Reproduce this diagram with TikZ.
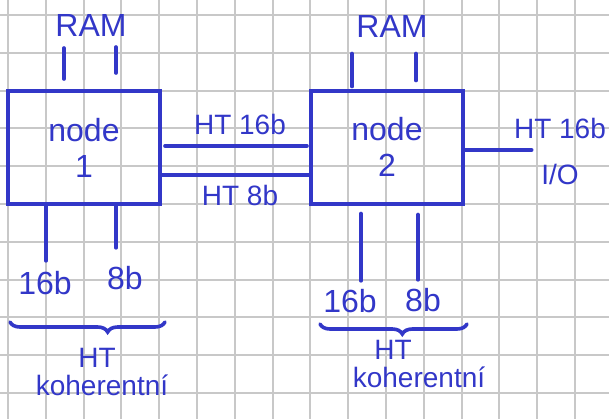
\documentclass[tikz,border=0pt]{standalone}
\usepackage{fontspec}
\setmainfont{Liberation Sans}
\usetikzlibrary{positioning,calc,decorations.pathreplacing}
\definecolor{ink}{HTML}{3237C8}
\definecolor{paper}{HTML}{C8C8C8}
\tikzset{
  nodebox/.style={draw=ink,line width=2pt,minimum width=76pt,minimum height=56.5pt,inner sep=0pt,align=center,text=ink,font=\fontsize{16}{18}\selectfont},
  lbl/.style={align=center,text=ink,inner sep=1pt,font=\fontsize{16}{18}\selectfont},
  slbl/.style={lbl,font=\fontsize{14}{17}\selectfont},
  wire/.style={draw=ink,line width=1.8pt,line cap=round},
  brc/.style={wire,decorate,decoration={brace,mirror,amplitude=5pt,#1}},
  gridln/.style={draw=paper,line width=1pt},
}

\begin{document}
\begin{tikzpicture}[x=0.5pt,y=-0.5pt]
  \useasboundingbox (0,0) rectangle (609,419);
  % squared paper
  \foreach \i in {0,...,15} \draw[gridln] ({8+37.8*\i},0) -- ({8+37.8*\i},419);
  \foreach \j in {0,...,10} \draw[gridln] (0,{15+37.8*\j}) -- (609,{15+37.8*\j});

  \node[nodebox] (n1) at (84,147.5) {node\\1};
  \node[nodebox] (n2) at (387,147) {node\\2};

  \node[lbl] (ram1) at (91,25) {RAM};
  \node[lbl] (ram2) at (392,26) {RAM};
  \draw[wire] ($(n1.north)+(-20,-10)$) -- ++(0,-31);
  \draw[wire] ($(n1.north)+(32,-16)$) -- ++(0,-26);
  \draw[wire] ($(n2.north)+(-35,-2)$) -- ++(0,-33);
  \draw[wire] ($(n2.north)+(29,-8)$) -- ++(0,-27);

  \draw[wire] ($(n1.east)+(3,-1.5)$) -- ($(n2.west)+(-2,-1)$);
  \draw[wire] ($(n1.east)+(0,27.5)$) -- ($(n2.west)+(0,28)$);
  \node[slbl] (ht16) at (240,124) {HT 16b};
  \node[slbl] (ht8) at (240,195) {HT 8b};

  \node[slbl] (io) at (560,151) {HT 16b\\[6pt]I/O};
  \draw[wire] ($(n2.east)+(0,3)$) -- ($(io.west)+(20,-1)$);

  \node[lbl] (b1) at (45,283) {16b};
  \node[lbl] (e1) at (125,278) {8b};
  \coordinate (s1) at ($(n1.south)+(-38,0)$);
  \coordinate (t1) at ($(n1.south)+(32,0)$);
  \draw[wire,shorten >=4pt] (s1) -- (s1 |- b1.north);
  \draw[wire,shorten >=8pt] (t1) -- (t1 |- e1.north);

  \node[lbl] (b2) at (350,301) {16b};
  \node[lbl] (e2) at (423,300) {8b};
  \coordinate (s2) at ($(n2.south)+(-26,8)$);
  \coordinate (t2) at ($(n2.south)+(31,9)$);
  \draw[wire,shorten >=3pt] (s2) -- (s2 |- b2.north);
  \draw[wire,shorten >=3pt] (t2) -- (t2 |- e2.north);

  \coordinate (L1) at (10,322);
  \coordinate (R1) at (165,322);
  \coordinate (L2) at (320,324);
  \coordinate (R2) at (467,324);
  \draw[brc={aspect=0.63}] (L1) -- (R1);
  \draw[brc={aspect=0.56}] (L2) -- (R2);

  \node[slbl] (hk1) at (97,358) {HT};
  \node[slbl,below=1pt of hk1,xshift=2.5pt] (kk1) {koherentní};
  \node[slbl] (hk2) at (393,350) {HT};
  \node[slbl,below=1pt of hk2,xshift=13pt] (kk2) {koherentní};
\end{tikzpicture}
\end{document}
